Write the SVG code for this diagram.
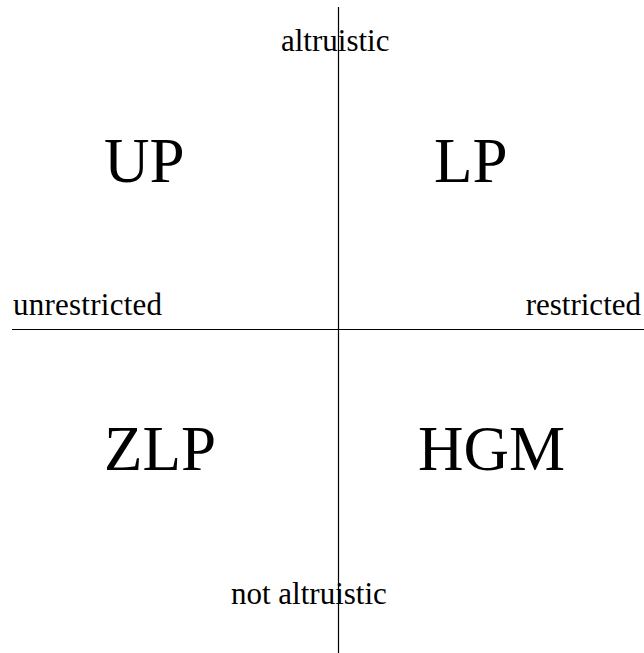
<svg xmlns="http://www.w3.org/2000/svg" width="644" height="653" viewBox="0 0 644 653">
<style>
.ax{font-family:"Liberation Serif","Times New Roman",serif;font-size:31px;fill:#000}
.q{font-family:"Liberation Serif","Times New Roman",serif;font-size:63px;fill:#000}
.ln{stroke:#000;stroke-width:1.2;fill:none}
</style>
<rect width="644" height="653" fill="#fff"/>
<g id="connectors">
<line class="ln" x1="338.5" y1="7" x2="338.5" y2="653"/>
<line class="ln" x1="12" y1="329.5" x2="644" y2="329.5"/>
</g>
<g id="label-altruistic"><text class="ax" x="281" y="51">altruistic</text></g>
<g id="label-not-altruistic"><text class="ax" x="231" y="604">not altruistic</text></g>
<g id="label-unrestricted"><text class="ax" x="13" y="315" textLength="149">unrestricted</text></g>
<g id="label-restricted"><text class="ax" x="641" y="315" text-anchor="end">restricted</text></g>
<g id="UP"><text class="q" x="104" y="182">UP</text></g>
<g id="LP"><text class="q" x="434" y="182">LP</text></g>
<g id="ZLP"><text class="q" x="104" y="470">ZLP</text></g>
<g id="HGM"><text class="q" x="418" y="470">HGM</text></g>
</svg>
